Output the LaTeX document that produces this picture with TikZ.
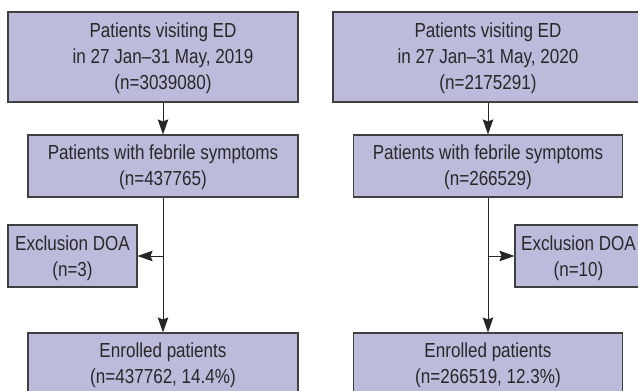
\documentclass[tikz,border=0pt]{standalone}
\usepackage{fontspec}
\setmainfont[FakeStretch=0.84]{Liberation Sans}
\usetikzlibrary{arrows.meta}
\definecolor{boxfill}{RGB}{188,187,220}
\definecolor{boxline}{RGB}{64,64,64}
\definecolor{txtcol}{RGB}{40,40,40}
\tikzset{
  box/.style={draw=boxline, line width=1.1pt, fill=boxfill, rectangle, inner sep=0pt},
  txt/.style={align=center, text=txtcol, inner sep=0pt, font=\fontsize{20.3}{25.8}\selectfont},
  flow/.style={draw=black!85, line width=1pt, -{Stealth[length=15pt,width=10.5pt,inset=2pt]}},
}
\begin{document}
\begin{tikzpicture}[x=1pt,y=-1pt]
\useasboundingbox (0,0) rectangle (638,391);
\clip (0,0) rectangle (638,391);
% left column
\node[box, minimum width=290pt, minimum height=90pt] (topL) at (153,57) {};
\node[txt] (topLt) at (163,58) {Patients visiting ED\\in 27 Jan--31 May, 2019\\(n=3039080)};
\node[box, minimum width=270pt, minimum height=62pt] (febL) at (163,166) {};
\node[txt] (febLt) at (163,167) {Patients with febrile symptoms\\(n=437765)};
\node[box, minimum width=129pt, minimum height=62pt] (excL) at (72.5,256) {};
\node[txt] (excLt) at (72.5,258) {Exclusion DOA\\(n=3)};
\node[box, minimum width=270pt, minimum height=62pt] (enrL) at (163,364) {};
\node[txt] (enrLt) at (163,365) {Enrolled patients\\(n=437762, 14.4\%)};
\coordinate (brL) at (163,256);
\draw[flow] (topL.south -| febL.north) -- (febL.north);
\draw[flow] (febL.south) -- (enrL.north);
\draw[flow] (brL) -- (excL.east);
% right column
\node[box, minimum width=310pt, minimum height=90pt] (topR) at (488,57) {};
\node[txt] (topRt) at (488,58) {Patients visiting ED\\in 27 Jan--31 May, 2020\\(n=2175291)};
\node[box, minimum width=269pt, minimum height=62pt] (febR) at (488,166) {};
\node[txt] (febRt) at (488,167) {Patients with febrile symptoms\\(n=266529)};
\node[box, minimum width=129pt, minimum height=62pt] (excR) at (579.5,256) {};
\node[txt] (excRt) at (578.5,258) {Exclusion DOA\\(n=10)};
\node[box, minimum width=269pt, minimum height=62pt] (enrR) at (488,364) {};
\node[txt] (enrRt) at (488,365) {Enrolled patients\\(n=266519, 12.3\%)};
\coordinate (brR) at (488,256);
\draw[flow] (topR.south -| febR.north) -- (febR.north);
\draw[flow] (febR.south) -- (enrR.north);
\draw[flow] (brR) -- (excR.west);
\end{tikzpicture}
\end{document}
